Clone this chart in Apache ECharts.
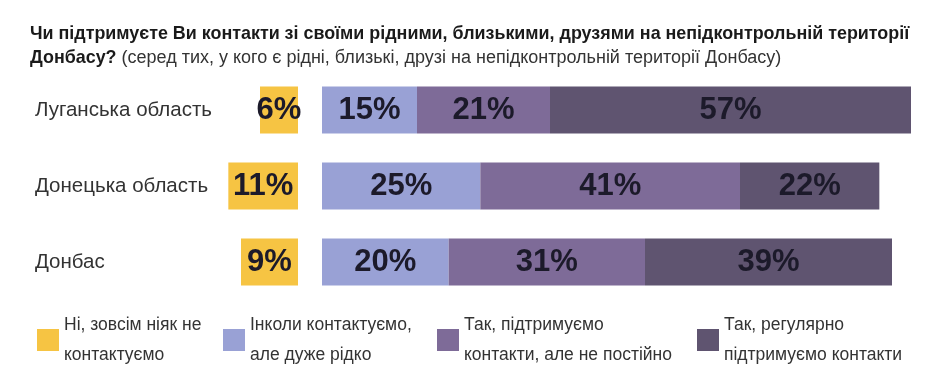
<!DOCTYPE html>
<html>
<head>
<meta charset="utf-8">
<script src="https://cdn.jsdelivr.net/npm/echarts@6/dist/echarts.min.js"></script>
<style>html,body{margin:0;padding:0;background:#fff}#c{width:950px;height:381px}</style>
</head>
<body>
<div id="c"></div>
<script>
const categories = ['Луганська область', 'Донецька область', 'Донбас'];
const seriesNames = [
  'Ні, зовсім ніяк не\nконтактуємо',
  'Інколи контактуємо,\nале дуже рідко',
  'Так, підтримуємо\nконтакти, але не постійно',
  'Так, регулярно\nпідтримуємо контакти'
];
const noContact = [6, 11, 9];
const rarely = [15, 25, 20];
const notConstant = [21, 41, 31];
const regularly = [57, 22, 39];
const colors = ['#F6C443', '#99A1D5', '#7E6B98', '#5F5470'];

const SANS = "'Liberation Sans', sans-serif";

const labelStyle = {
  show: true, position: 'inside', formatter: '{c}%',
  fontSize: 31, fontWeight: 'bold', fontFamily: SANS, color: '#1c1a2a'
};

function bar(name, data, color, idx) {
  return {
    name: name, type: 'bar', data: data, stack: 'g' + idx,
    xAxisIndex: idx, yAxisIndex: idx, barWidth: 47,
    itemStyle: { color: color }, label: labelStyle, silent: true
  };
}

const legendLefts = [37, 223, 437, 697];

const chart = echarts.init(document.getElementById('c'), null, { renderer: 'canvas' });
chart.setOption({
  backgroundColor: '#ffffff',
  animation: false,
  title: {
    left: 30, top: 22, padding: 0,
    text: '{b|Чи підтримуєте Ви контакти зі своїми рідними, близькими, друзями на непідконтрольній території}\n{b|Донбасу?} {r|(серед тих, у кого є рідні, близькі, друзі на непідконтрольній території Донбасу)}',
    textStyle: {
      rich: {
        b: { fontSize: 17.9, fontWeight: 'bold', fontFamily: SANS, color: '#1a1a1a', lineHeight: 24 },
        r: { fontSize: 18, fontWeight: 'normal', fontFamily: SANS, color: '#333333', lineHeight: 24 }
      }
    }
  },
  legend: seriesNames.map((n, i) => ({
    data: [n], left: legendLefts[i], top: 310, padding: 0, itemWidth: 22, itemHeight: 22,
    icon: 'rect', selectedMode: false,
    textStyle: { fontSize: 17.5, fontFamily: SANS, color: '#333333', lineHeight: 30 }
  })),
  grid: [
    { left: 222, right: 652, top: 72, height: 228 },
    { left: 322, right: 39, top: 72, height: 228 }
  ],
  xAxis: [
    { gridIndex: 0, type: 'value', min: 0, max: 12, inverse: true, show: false },
    { gridIndex: 1, type: 'value', min: 0, max: 93, show: false }
  ],
  yAxis: [
    { gridIndex: 0, type: 'category', data: categories, inverse: true, show: false },
    {
      gridIndex: 1, type: 'category', data: categories, inverse: true,
      axisLine: { show: false }, axisTick: { show: false },
      axisLabel: { align: 'left', margin: 287, fontSize: 20.5, fontFamily: SANS, color: '#333333' }
    }
  ],
  series: [
    bar(seriesNames[0], noContact, colors[0], 0),
    bar(seriesNames[1], rarely, colors[1], 1),
    bar(seriesNames[2], notConstant, colors[2], 1),
    bar(seriesNames[3], regularly, colors[3], 1)
  ]
});
</script>
</body>
</html>
